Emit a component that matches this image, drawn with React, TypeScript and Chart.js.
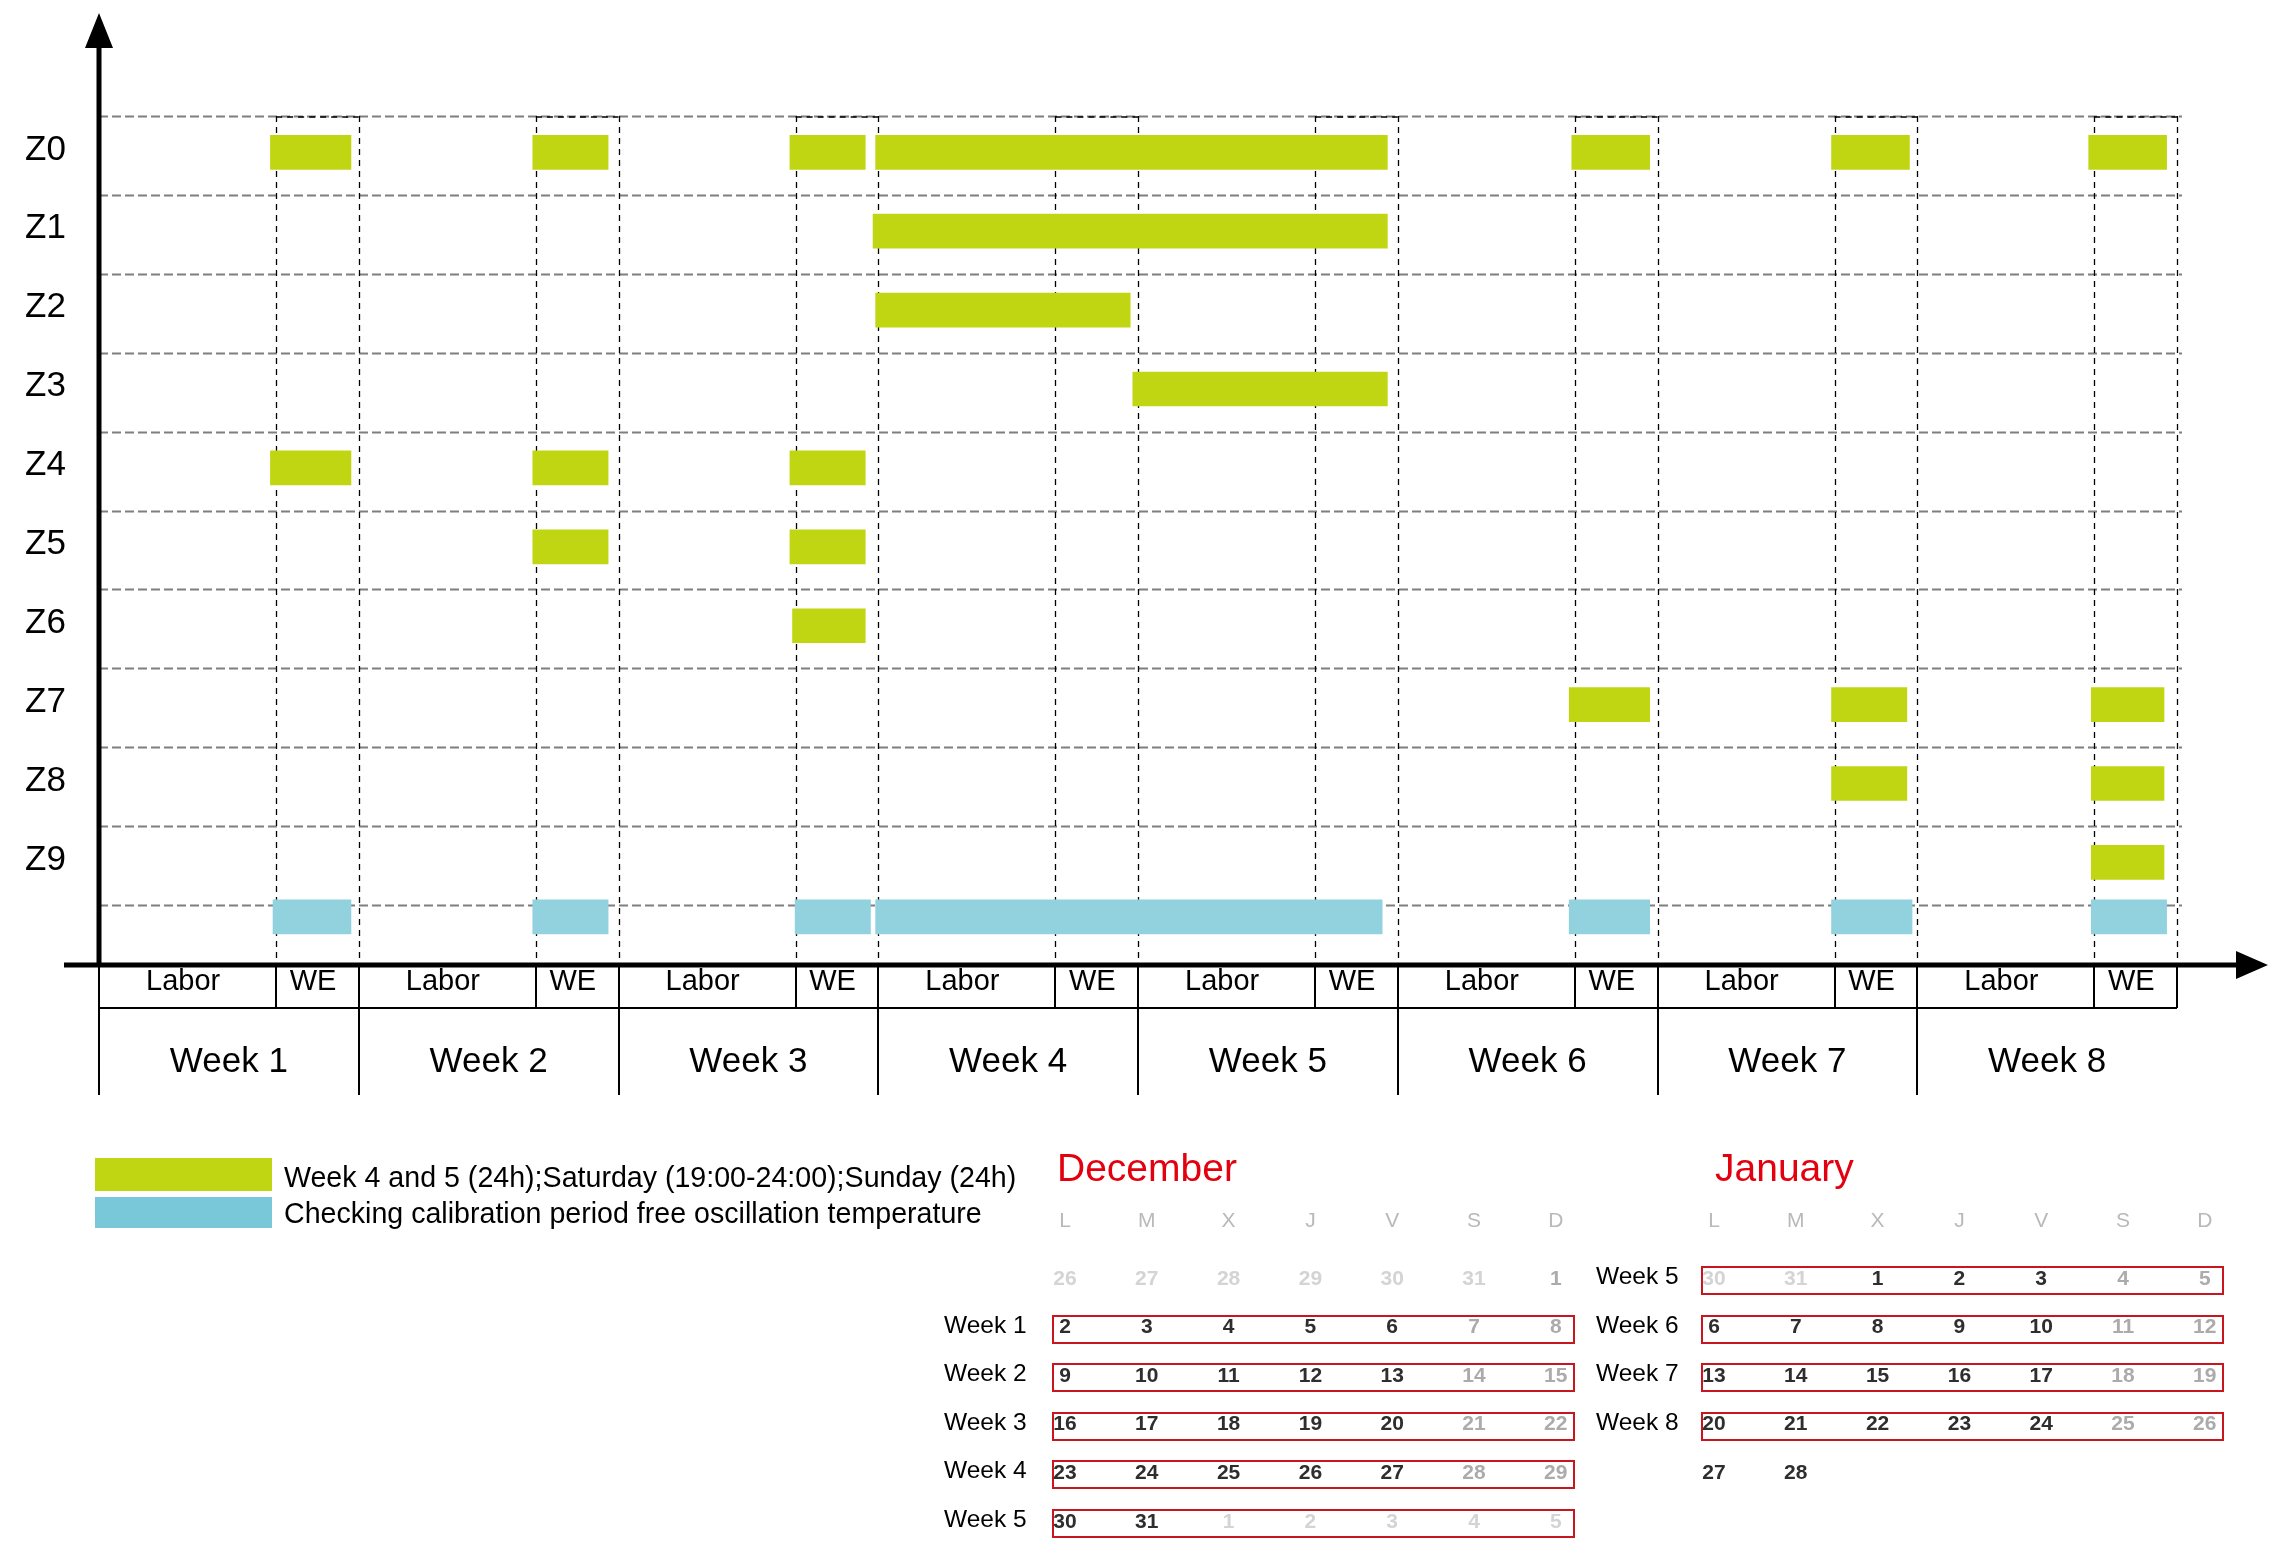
import React, { useEffect, useRef } from 'react';
import { Chart, registerables } from 'chart.js';

Chart.register(...registerables);

const FONT = "'Liberation Sans', Arial, Helvetica, sans-serif";

// ---------- data ----------
const rowLabels = ['Z0', 'Z1', 'Z2', 'Z3', 'Z4', 'Z5', 'Z6', 'Z7', 'Z8', 'Z9'];
const weekLabels = ['Week 1', 'Week 2', 'Week 3', 'Week 4', 'Week 5', 'Week 6', 'Week 7', 'Week 8'];
const periodLabels = ['Labor', 'WE'];
const laborShare = 0.682; // share of each week column taken by "Labor"

// spans in week units (0 = start of Week 1, 8 = end of Week 8), one list per row Z0..Z9
const activeSpans: [number, number][][] = [
  [[0.66, 0.97], [1.67, 1.96], [2.66, 2.95], [2.99, 4.96], [5.67, 5.97], [6.67, 6.97], [7.66, 7.96]],
  [[2.98, 4.96]],
  [[2.99, 3.97]],
  [[3.98, 4.96]],
  [[0.66, 0.97], [1.67, 1.96], [2.66, 2.95]],
  [[1.67, 1.96], [2.66, 2.95]],
  [[2.67, 2.95]],
  [[5.66, 5.97], [6.67, 6.96], [7.67, 7.95]],
  [[6.67, 6.96], [7.67, 7.95]],
  [[7.67, 7.95]],
];
const calibrationSpans: [number, number][] = [
  [0.67, 0.97], [1.67, 1.96], [2.68, 2.97], [2.99, 4.94], [5.66, 5.97], [6.67, 6.98], [7.67, 7.96],
];

const legendLabels = [
  'Week 4 and 5 (24h);Saturday (19:00-24:00);Sunday (24h)',
  'Checking calibration period free oscillation temperature',
];

const dayHeaders = ['L', 'M', 'X', 'J', 'V', 'S', 'D'];
type CalRow = { week: string; days: number[]; outside: number[] };
const decemberRows: CalRow[] = [
  { week: '', days: [26, 27, 28, 29, 30, 31, 1], outside: [0, 1, 2, 3, 4, 5] },
  { week: 'Week 1', days: [2, 3, 4, 5, 6, 7, 8], outside: [] },
  { week: 'Week 2', days: [9, 10, 11, 12, 13, 14, 15], outside: [] },
  { week: 'Week 3', days: [16, 17, 18, 19, 20, 21, 22], outside: [] },
  { week: 'Week 4', days: [23, 24, 25, 26, 27, 28, 29], outside: [] },
  { week: 'Week 5', days: [30, 31, 1, 2, 3, 4, 5], outside: [2, 3, 4, 5, 6] },
];
const januaryRows: CalRow[] = [
  { week: 'Week 5', days: [30, 31, 1, 2, 3, 4, 5], outside: [0, 1] },
  { week: 'Week 6', days: [6, 7, 8, 9, 10, 11, 12], outside: [] },
  { week: 'Week 7', days: [13, 14, 15, 16, 17, 18, 19], outside: [] },
  { week: 'Week 8', days: [20, 21, 22, 23, 24, 25, 26], outside: [] },
  { week: '', days: [27, 28], outside: [] },
];

// ---------- style / layout ----------
const GREEN = '#C1D613';
const BLUE = '#92D2DF';
const LEGEND_BLUE = '#78C8DA';
const RED_BOX = '#C8161E';
const RED_TITLE = '#E3000F';

const BAR_OFFSET = 0.46;
const LABEL_OFFSET = 0.43;
const CALIB_ROW = 10.15;
const Y_MAX = 10.76;
const PERIOD_LABEL_SHIFT = -0.017;

const periodCenters: number[] = [];
const periodTickLabels: string[] = [];
weekLabels.forEach((_, w) => {
  periodCenters.push(
    w + laborShare / 2 + PERIOD_LABEL_SHIFT,
    w + laborShare + (1 - laborShare) / 2 + PERIOD_LABEL_SHIFT
  );
  periodTickLabels.push(periodLabels[0], periodLabels[1]);
});

const ganttDecor = {
  id: 'ganttDecor',
  beforeDatasetsDraw(chart: any) {
    const { ctx, chartArea: a, scales } = chart;
    const x = scales.x;
    const y = scales.y;
    ctx.save();
    // horizontal grey dashed rows
    ctx.strokeStyle = '#7f7f7f';
    ctx.lineWidth = 2;
    ctx.setLineDash([9, 4]);
    for (let k = 0; k <= rowLabels.length; k++) {
      const py = Math.round(y.getPixelForValue(k)) + 0.5;
      ctx.beginPath();
      ctx.moveTo(a.left, py);
      ctx.lineTo(a.right + 5, py);
      ctx.stroke();
    }
    // vertical black dashed columns
    ctx.strokeStyle = '#000';
    ctx.lineWidth = 1.3;
    ctx.setLineDash([6, 5]);
    weekLabels.forEach((_, w) => {
      [w + laborShare, w + 1].forEach((v) => {
        const px = Math.round(x.getPixelForValue(v)) + 0.5;
        ctx.beginPath();
        ctx.moveTo(px, a.top);
        ctx.lineTo(px, a.bottom);
        ctx.stroke();
      });
      const x0 = x.getPixelForValue(w + laborShare);
      const x1 = x.getPixelForValue(w + 1);
      ctx.beginPath();
      ctx.moveTo(x0, a.top + 1);
      ctx.lineTo(x1, a.top + 1);
      ctx.stroke();
    });
    ctx.restore();
  },
  afterDraw(chart: any) {
    const { ctx, chartArea: a, scales } = chart;
    const x = scales.x;
    const xw = scales.xw;
    ctx.save();
    ctx.fillStyle = '#000';
    ctx.strokeStyle = '#000';
    // y axis with arrow
    ctx.lineWidth = 5;
    ctx.beginPath();
    ctx.moveTo(a.left, a.bottom);
    ctx.lineTo(a.left, a.top - 70);
    ctx.stroke();
    ctx.beginPath();
    ctx.moveTo(a.left - 14, a.top - 68);
    ctx.lineTo(a.left + 14, a.top - 68);
    ctx.lineTo(a.left, a.top - 103);
    ctx.closePath();
    ctx.fill();
    // x axis with arrow
    ctx.beginPath();
    ctx.moveTo(a.left - 35, a.bottom);
    ctx.lineTo(a.right + 62, a.bottom);
    ctx.stroke();
    ctx.beginPath();
    ctx.moveTo(a.right + 59, a.bottom - 14);
    ctx.lineTo(a.right + 59, a.bottom + 14);
    ctx.lineTo(a.right + 91, a.bottom);
    ctx.closePath();
    ctx.fill();
    // table under the axis
    ctx.lineWidth = 2;
    ctx.beginPath();
    ctx.moveTo(a.left, x.bottom);
    ctx.lineTo(a.right, x.bottom);
    ctx.stroke();
    weekLabels.forEach((_, w) => {
      const pw = Math.round(x.getPixelForValue(w));
      ctx.beginPath();
      ctx.moveTo(pw, a.bottom);
      ctx.lineTo(pw, xw.bottom);
      ctx.stroke();
      const pe = Math.round(x.getPixelForValue(w + laborShare));
      ctx.beginPath();
      ctx.moveTo(pe, a.bottom);
      ctx.lineTo(pe, x.bottom);
      ctx.stroke();
    });
    const pEnd = Math.round(x.getPixelForValue(weekLabels.length));
    ctx.beginPath();
    ctx.moveTo(pEnd, a.bottom);
    ctx.lineTo(pEnd, x.bottom);
    ctx.stroke();
    ctx.restore();
  },
};

// ---------- html helpers ----------
function Txt(props: {
  x: number; cy: number; size: number; color?: string; weight?: number | string;
  align?: 'left' | 'center'; children: React.ReactNode;
}) {
  const { x, cy, size, color = '#000', weight = 400, align = 'left', children } = props;
  const lh = Math.round(size * 1.3);
  const style: React.CSSProperties = {
    position: 'absolute',
    top: cy - lh / 2,
    lineHeight: `${lh}px`,
    fontSize: size,
    fontFamily: FONT,
    fontWeight: weight as any,
    color,
    whiteSpace: 'nowrap',
  };
  if (align === 'center') {
    style.left = x - 60;
    style.width = 120;
    style.textAlign = 'center';
  } else {
    style.left = x;
  }
  return <div style={style}>{children}</div>;
}

const COL_STEP = 81.8;
const ROW_STEP = 48.6;
const FIRST_ROW_Y = 1277;
const HEADER_Y = 1219;
const TITLE_Y = 1167;

function MonthCalendar(props: { title: string; rows: CalRow[]; firstColX: number; titleLeft: number; labelLeft: number }) {
  const { title, rows, firstColX, titleLeft, labelLeft } = props;
  const out: React.ReactNode[] = [];
  out.push(
    <Txt key="t" x={titleLeft} cy={TITLE_Y} size={39} color={RED_TITLE}>{title}</Txt>
  );
  dayHeaders.forEach((h, j) => {
    out.push(
      <Txt key={'h' + j} x={firstColX + j * COL_STEP} cy={HEADER_Y} size={21} color="#b9b9b9" align="center">{h}</Txt>
    );
  });
  rows.forEach((r, i) => {
    const cy = FIRST_ROW_Y + i * ROW_STEP;
    if (r.week) {
      out.push(
        <Txt key={'w' + i} x={labelLeft} cy={cy - 1} size={24.5}>{r.week}</Txt>
      );
      out.push(
        <div key={'b' + i} style={{
          position: 'absolute', left: firstColX - 13, top: cy - 11, width: 6 * COL_STEP + 32, height: 29,
          border: `2px solid ${RED_BOX}`, boxSizing: 'border-box',
        }} />
      );
    }
    r.days.forEach((d, j) => {
      const outside = r.outside.includes(j);
      const weekend = j >= 5;
      const color = outside ? '#d4d4d4' : weekend ? '#ababab' : '#2e2e2e';
      out.push(
        <Txt key={'d' + i + '_' + j} x={firstColX + j * COL_STEP} cy={cy} size={21} weight={700} color={color} align="center">{d}</Txt>
      );
    });
  });
  return <>{out}</>;
}

export default function App() {
  const canvasRef = useRef<HTMLCanvasElement | null>(null);

  useEffect(() => {
    const canvas = canvasRef.current;
    if (!canvas) return;
    Chart.defaults.font.family = FONT;
    const chart = new Chart(canvas, {
      type: 'bar',
      data: {
        datasets: [
          {
            label: legendLabels[0],
            data: activeSpans.flatMap((spans, i) => spans.map((s) => ({ x: s, y: i + BAR_OFFSET }))) as any,
            backgroundColor: GREEN,
            borderWidth: 0,
            barThickness: 34,
            grouped: false,
          } as any,
          {
            label: legendLabels[1],
            data: calibrationSpans.map((s) => ({ x: s, y: CALIB_ROW })) as any,
            backgroundColor: BLUE,
            borderWidth: 0,
            barThickness: 34,
            grouped: false,
          } as any,
        ],
      },
      options: {
        indexAxis: 'y',
        responsive: false,
        maintainAspectRatio: false,
        devicePixelRatio: 1,
        animation: false,
        layout: { padding: { left: 25, top: 116, right: 110, bottom: 461 } },
        plugins: { legend: { display: false }, tooltip: { enabled: false }, title: { display: false } },
        scales: {
          x: {
            type: 'linear',
            position: 'bottom',
            min: 0,
            max: weekLabels.length,
            offset: false,
            weight: 0,
            grid: { display: false, drawTicks: false },
            border: { display: false },
            afterBuildTicks: (s: any) => { s.ticks = periodCenters.map((v) => ({ value: v })); },
            afterFit: (s: any) => { s.height = 43; },
            ticks: {
              autoSkip: false, maxRotation: 0, minRotation: 0, padding: 0, color: '#000',
              font: { size: 29, family: FONT },
              callback: (_v: any, i: number) => periodTickLabels[i],
            },
          },
          xw: {
            type: 'linear',
            axis: 'x',
            position: 'bottom',
            min: 0,
            max: weekLabels.length,
            offset: false,
            weight: 1,
            grid: { display: false, drawTicks: false },
            border: { display: false },
            afterBuildTicks: (s: any) => { s.ticks = weekLabels.map((_, w) => ({ value: w + 0.5 })); },
            afterFit: (s: any) => { s.height = 87; },
            ticks: {
              autoSkip: false, maxRotation: 0, minRotation: 0, padding: 33, color: '#000',
              font: { size: 35, family: FONT },
              callback: (_v: any, i: number) => weekLabels[i],
            },
          },
          y: {
            type: 'linear',
            min: 0,
            max: Y_MAX,
            reverse: true,
            offset: false,
            grid: { display: false, drawTicks: false },
            border: { display: false },
            afterBuildTicks: (s: any) => { s.ticks = rowLabels.map((_, i) => ({ value: i + LABEL_OFFSET })); },
            afterFit: (s: any) => { s.width = 74; },
            ticks: {
              autoSkip: false, padding: 0, color: '#000', crossAlign: 'far',
              font: { size: 35, family: FONT },
              callback: (_v: any, i: number) => rowLabels[i],
            },
          },
        } as any,
      },
      plugins: [ganttDecor],
    });
    return () => chart.destroy();
  }, []);

  return (
    <div style={{ position: 'absolute', left: 0, top: 0, width: 2287, height: 1556, background: '#fff', overflow: 'hidden' }}>
      <canvas ref={canvasRef} width={2287} height={1556} style={{ position: 'absolute', left: 0, top: 0, width: 2287, height: 1556 }} />
      {/* legend */}
      <div style={{ position: 'absolute', left: 95, top: 1158, width: 177, height: 33, background: GREEN }} />
      <div style={{ position: 'absolute', left: 95, top: 1197, width: 177, height: 31, background: LEGEND_BLUE }} />
      <Txt x={284} cy={1177} size={28.6}>{legendLabels[0]}</Txt>
      <Txt x={284} cy={1213} size={28.6}>{legendLabels[1]}</Txt>
      {/* calendars */}
      <MonthCalendar title="December" rows={decemberRows} firstColX={1065} titleLeft={1057} labelLeft={944} />
      <MonthCalendar title="January" rows={januaryRows} firstColX={1714} titleLeft={1715} labelLeft={1596} />
    </div>
  );
}
